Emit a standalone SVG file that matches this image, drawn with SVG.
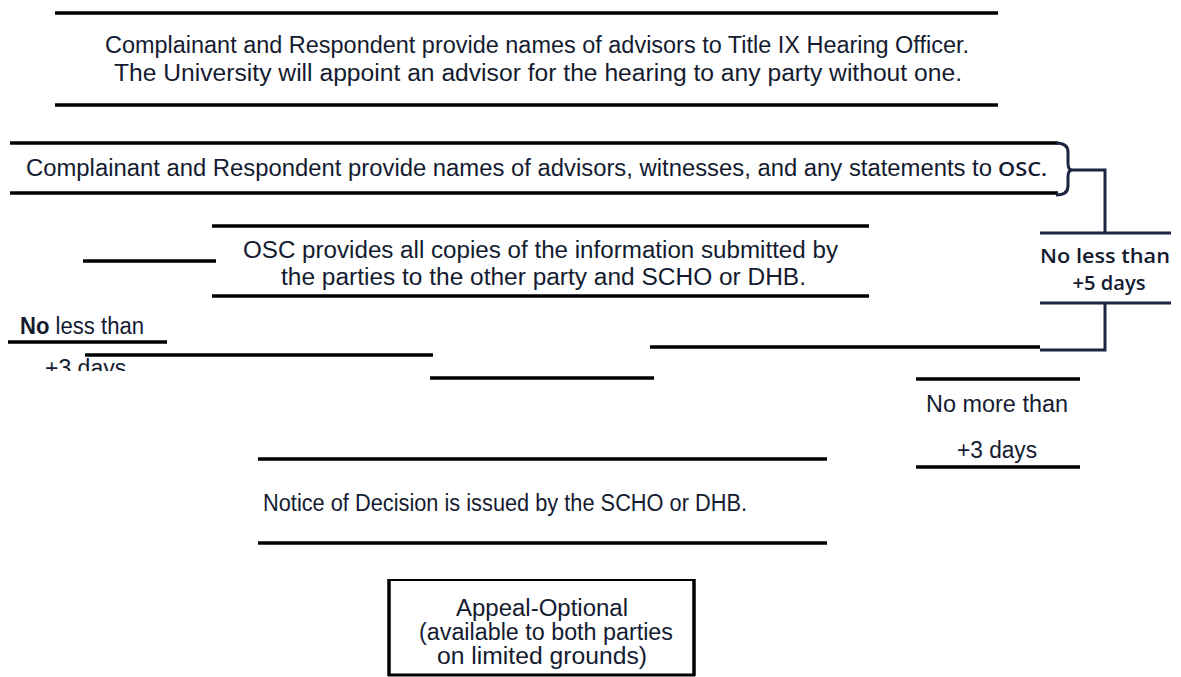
<svg xmlns="http://www.w3.org/2000/svg" width="1181" height="677" viewBox="0 0 1181 677">
  <defs>
    <style>
      .t { font-family: "Liberation Sans", Arial, sans-serif; font-size: 23px; fill: #141b30; }
      .g { font-family: "Open Sans", "Liberation Sans", sans-serif; font-weight: 600; font-size: 19px; fill: #141b30; }
      .ln { stroke: #000; stroke-width: 3.5; fill: none; }
      .nv { stroke: #1b2540; stroke-width: 3; fill: none; }
    </style>
    <clipPath id="clip3"><rect x="0" y="340" width="200" height="31"/></clipPath>
  </defs>
  <rect width="1181" height="677" fill="#fff"/>

  <g id="node-advisors-hearing-officer">
    <line class="ln" x1="55" y1="13" x2="998" y2="13"/>
    <line class="ln" x1="55" y1="105" x2="998" y2="105"/>
    <text class="t" x="105" y="53" textLength="864" lengthAdjust="spacingAndGlyphs">Complainant and Respondent  provide names of advisors to Title IX Hearing Officer.</text>
    <text class="t" x="114" y="81" textLength="848" lengthAdjust="spacingAndGlyphs">The University  will appoint  an advisor  for  the  hearing to  any party  without  one.</text>
  </g>

  <g id="node-statements-to-osc">
    <line class="ln" x1="10" y1="143" x2="1058" y2="143"/>
    <line class="ln" x1="10" y1="193" x2="1058" y2="193"/>
    <text class="t" x="26" y="176" textLength="966" lengthAdjust="spacingAndGlyphs">Complainant and Respondent provide names of advisors, witnesses, and any statements to</text>
    <text class="g" x="998" y="176" font-size="21" textLength="49" lengthAdjust="spacingAndGlyphs">OSC.</text>
  </g>

  <g id="node-osc-provides">
    <line class="ln" x1="212" y1="226" x2="869" y2="226"/>
    <line class="ln" x1="212" y1="296" x2="869" y2="296"/>
    <text class="t" x="243" y="258" textLength="595" lengthAdjust="spacingAndGlyphs">OSC provides all copies of the information submitted by</text>
    <text class="t" x="281" y="285" textLength="525" lengthAdjust="spacingAndGlyphs">the parties to the other party and SCHO or DHB.</text>
  </g>

  <g id="node-no-less-than-5">
    <line class="nv" x1="1040" y1="233" x2="1171" y2="233"/>
    <line class="nv" x1="1040" y1="303" x2="1171" y2="303"/>
    <text class="g" x="1105" y="263" text-anchor="middle" textLength="130" lengthAdjust="spacingAndGlyphs">No less than</text>
    <text class="g" x="1109" y="290" text-anchor="middle" textLength="73" lengthAdjust="spacingAndGlyphs">+5 days</text>
  </g>

  <g id="node-no-less-than-3">
    <text class="t" x="20" y="334" textLength="124" lengthAdjust="spacingAndGlyphs"><tspan font-weight="bold">No</tspan> less than</text>
    <line class="ln" x1="8" y1="342" x2="167" y2="342"/>
    <text class="t" x="45" y="376" clip-path="url(#clip3)">+3 days</text>
  </g>

  <g id="node-no-more-than-3">
    <line class="ln" x1="916" y1="379" x2="1080" y2="379"/>
    <line class="ln" x1="916" y1="467" x2="1080" y2="467"/>
    <text class="t" x="997" y="412" text-anchor="middle" textLength="142" lengthAdjust="spacingAndGlyphs">No more than</text>
    <text class="t" x="997" y="458" text-anchor="middle" textLength="80" lengthAdjust="spacingAndGlyphs">+3 days</text>
  </g>

  <g id="node-notice-of-decision">
    <line class="ln" x1="258" y1="459" x2="827" y2="459"/>
    <line class="ln" x1="258" y1="543" x2="827" y2="543"/>
    <text class="t" x="263" y="511" textLength="484" lengthAdjust="spacingAndGlyphs">Notice of Decision is issued by the SCHO or DHB.</text>
  </g>

  <g id="node-appeal">
    <line x1="388" y1="580" x2="695" y2="580" stroke="#000" stroke-width="2"/>
    <line x1="388" y1="675" x2="695" y2="675" stroke="#000" stroke-width="3"/>
    <line x1="389" y1="579" x2="389" y2="676" stroke="#000" stroke-width="3.5"/>
    <line x1="694" y1="579" x2="694" y2="676" stroke="#000" stroke-width="3.5"/>
    <text class="t" x="542" y="616" text-anchor="middle" textLength="172" lengthAdjust="spacingAndGlyphs">Appeal-Optional</text>
    <text class="t" x="546" y="640" text-anchor="middle" textLength="254" lengthAdjust="spacingAndGlyphs">(available to both parties</text>
    <text class="t" x="542" y="664" text-anchor="middle" textLength="210" lengthAdjust="spacingAndGlyphs">on limited grounds)</text>
  </g>

  <g id="connectors">
    <path class="nv" d="M1056,143 Q1068,143 1068,152 L1068,163 Q1068,170 1072,170 L1105,170 L1105,233"/>
    <path class="nv" d="M1072,170 Q1068,170 1068,177 L1068,186 Q1068,195 1056,195"/>
    <path class="nv" d="M1105,303 L1105,350 L1040,350"/>
    <line class="ln" x1="650" y1="347" x2="1040" y2="347"/>
    <line class="ln" x1="83" y1="261" x2="216" y2="261"/>
    <line class="ln" x1="85" y1="355" x2="433" y2="355"/>
    <line class="ln" x1="430" y1="378" x2="654" y2="378"/>
  </g>
</svg>
